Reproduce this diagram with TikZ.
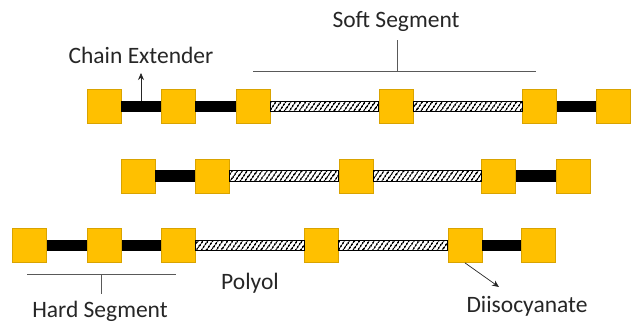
\documentclass[tikz,border=0pt]{standalone}
\usepackage{fontspec}
\setmainfont{Carlito}
\usetikzlibrary{patterns.meta,arrows.meta,calc}
\definecolor{gold}{HTML}{FFC000}
\definecolor{goldedge}{HTML}{D9A300}
\definecolor{txt}{HTML}{262626}
\definecolor{brk}{HTML}{595959}
\tikzset{
  unit/.style={draw=goldedge,fill=gold,line width=0.8pt,minimum size=34pt,inner sep=0pt},
  hardbar/.style={fill=black},
  softbar/.style={draw=black,line width=0.9pt,pattern={Lines[angle=55,distance=4pt,line width=1.8pt]}},
  lbl/.style={text=txt,font=\fontsize{23.5}{26}\selectfont,inner sep=0pt},
  brack/.style={draw=brk,line width=0.8pt},
  pointer/.style={draw=txt,line width=0.7pt,-{Stealth[length=7pt,width=6pt]}}
}
\newcommand{\myhardbar}[2]{\path[hardbar] ([yshift=5.75pt]#1.east) rectangle ([yshift=-5.75pt]#2.west);}
\newcommand{\mysoftbar}[2]{\path[softbar] ([yshift=5.25pt]#1.east) rectangle ([yshift=-5.25pt]#2.west);}
\begin{document}
\begin{tikzpicture}[x=1pt,y=-1pt]
\useasboundingbox (0,0) rectangle (631,323);
% row 1
\node[unit] (a1) at (104,106.5) {};
\node[unit] (a2) at (178,106.5) {};
\node[unit] (a3) at (253,106.5) {};
\node[unit] (a4) at (396,106.5) {};
\node[unit] (a5) at (539.5,106.5) {};
\node[unit] (a6) at (613.5,106.5) {};
\myhardbar{a1}{a2}\myhardbar{a2}{a3}\mysoftbar{a3}{a4}\mysoftbar{a4}{a5}\myhardbar{a5}{a6}
% row 2
\node[unit] (b1) at (138,176) {};
\node[unit] (b2) at (212.5,176) {};
\node[unit] (b3) at (356,176) {};
\node[unit] (b4) at (498.5,176) {};
\node[unit] (b5) at (573,176) {};
\myhardbar{b1}{b2}\mysoftbar{b2}{b3}\mysoftbar{b3}{b4}\myhardbar{b4}{b5}
% row 3
\node[unit] (c1) at (29.5,245.5) {};
\node[unit] (c2) at (104.5,245.5) {};
\node[unit] (c3) at (178.5,245.5) {};
\node[unit] (c4) at (321.5,245.5) {};
\node[unit] (c5) at (465,245.5) {};
\node[unit] (c6) at (538.5,245.5) {};
\myhardbar{c1}{c2}\myhardbar{c2}{c3}\mysoftbar{c3}{c4}\mysoftbar{c4}{c5}\myhardbar{c5}{c6}
% labels
\node[lbl] (ce) at (141,55) {Chain Extender};
\node[lbl] (ss) at (396,21) {Soft Segment};
\node[lbl] (hs) at (100,311) {Hard Segment};
\node[lbl] (po) at (250,283) {Polyol};
\node[lbl] (di) at (527,306) {Diisocyanate};
% chain extender pointer
\coordinate (cebar) at ($(a1.east)!0.5!(a2.west)+(0,-5.75)$);
\coordinate (cetip) at (141,73);
\draw[pointer] (cebar) -- (cetip);
% diisocyanate pointer
\coordinate (ditip) at (499,287);
\draw[pointer] (c5.south) -- (ditip);
% soft segment bracket
\coordinate (sl) at (253,71);
\coordinate (sr) at (536,71);
\coordinate (sm) at (397,71);
\coordinate (st) at (397,40);
\draw[brack] (sl) -- (sr);
\draw[brack] (sm) -- (st);
% hard segment bracket
\coordinate (hl) at (27,274);
\coordinate (hr) at (176,274);
\coordinate (hm) at (101,274);
\coordinate (hb) at (101,294);
\draw[brack] (hl) -- (hr);
\draw[brack] (hm) -- (hb);
\end{tikzpicture}
\end{document}
